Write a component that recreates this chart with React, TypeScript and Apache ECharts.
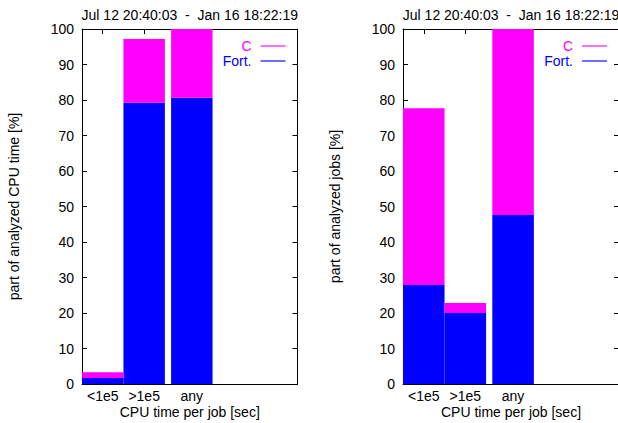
import React, { useEffect, useRef } from "react";
import * as echarts from "echarts";

const categories = ["<1e5", ">1e5", "any"];
const positions = [0.5, 1.5, 2.65];
const cpuFort = [1.7, 79.2, 80.6];
const cpuC = [1.6, 18.0, 19.4];
const jobsFort = [27.9, 20.0, 47.6];
const jobsC = [49.8, 2.8, 52.4];
const titleText = "Jul 12 20:40:03  -  Jan 16 18:22:19";
const yNames = ["part of analyzed CPU time [%]", "part of analyzed jobs [%]"];
const xName = "CPU time per job [sec]";
const seriesNames = ["C", "Fort."];

const FONT = "'Liberation Sans', Arial, Helvetica, sans-serif";
const FS = 14;
const MAGENTA = "#ff00ff";
const BLUE = "#0000ff";

const grids = [
  { left: 82, top: 29, width: 215.5, height: 355 },
  { left: 403, top: 29, width: 216, height: 355 },
];

export default function App() {
  const ref = useRef<HTMLDivElement>(null);
  useEffect(() => {
    if (!ref.current) return;
    const chart = echarts.init(ref.current, undefined, { renderer: "svg" });

    const renderItem = (color: string) => (params: any, api: any) => {
      const x = api.value(0);
      const lo = api.value(1);
      const hi = api.value(2);
      const p1 = api.coord([x - 0.5, hi]);
      const p2 = api.coord([x + 0.5, lo]);
      return {
        type: "rect",
        shape: { x: p1[0], y: p1[1], width: p2[0] - p1[0], height: p2[1] - p1[1] },
        style: { fill: color },
      };
    };

    const xAxes: any[] = [];
    const yAxes: any[] = [];
    const series: any[] = [];
    const graphic: any[] = [];
    const panels = [
      { fort: cpuFort, c: cpuC },
      { fort: jobsFort, c: jobsC },
    ];

    grids.forEach((g, i) => {
      const tickLine = { lineStyle: { color: "#000", width: 1 } };
      xAxes.push({
        type: "value",
        gridIndex: i,
        position: "bottom",
        min: 0,
        max: 5.2,
        splitLine: { show: false },
        axisLine: { show: true, onZero: false, ...tickLine },
        axisTick: { show: true, inside: true, length: 5, customValues: positions, ...tickLine },
        axisLabel: {
          customValues: positions,
          formatter: (v: number) => {
            const idx = positions.findIndex((p) => Math.abs(p - v) < 1e-6);
            return idx >= 0 ? categories[idx] : "";
          },
          color: "#000",
          fontFamily: FONT,
          fontSize: FS,
          lineHeight: 14,
          margin: 5,
        },
        name: xName,
        nameLocation: "middle",
        nameGap: 21,
        nameMoveOverlap: false,
        nameTextStyle: { color: "#000", fontFamily: FONT, fontSize: FS, lineHeight: 14 },
      });
      xAxes.push({
        type: "value",
        gridIndex: i,
        position: "top",
        min: 0,
        max: 5.2,
        splitLine: { show: false },
        axisLine: { show: true, onZero: false, ...tickLine },
        axisTick: { show: true, inside: true, length: 5, customValues: positions, ...tickLine },
        axisLabel: { show: false },
      });
      yAxes.push({
        type: "value",
        gridIndex: i,
        position: "left",
        min: 0,
        max: 100,
        interval: 10,
        splitLine: { show: false },
        axisLine: { show: true, onZero: false, ...tickLine },
        axisTick: { show: true, inside: true, length: 5, ...tickLine },
        axisLabel: { color: "#000", fontFamily: FONT, fontSize: FS, margin: 8 },
        name: yNames[i],
        nameLocation: "middle",
        nameGap: 61,
        nameMoveOverlap: false,
        nameTextStyle: { color: "#000", fontFamily: FONT, fontSize: FS },
      });
      yAxes.push({
        type: "value",
        gridIndex: i,
        position: "right",
        min: 0,
        max: 100,
        interval: 10,
        splitLine: { show: false },
        axisLine: { show: true, onZero: false, ...tickLine },
        axisTick: { show: true, inside: true, length: 5, ...tickLine },
        axisLabel: { show: false },
      });

      const p = panels[i];
      const fortData = positions.map((x, k) => [x, 0, p.fort[k]]);
      const cData = positions.map((x, k) => [x, p.fort[k], p.fort[k] + p.c[k]]);
      series.push({
        type: "custom",
        name: seriesNames[1],
        xAxisIndex: i * 2,
        yAxisIndex: i * 2,
        renderItem: renderItem(BLUE),
        encode: { x: 0, y: [1, 2] },
        data: fortData,
        z: 1,
      });
      series.push({
        type: "custom",
        name: seriesNames[0],
        xAxisIndex: i * 2,
        yAxisIndex: i * 2,
        renderItem: renderItem(MAGENTA),
        encode: { x: 0, y: [1, 2] },
        data: cData,
        z: 1,
      });

      const cx = g.left + g.width / 2;
      graphic.push({
        type: "text",
        x: cx,
        y: 15,
        style: {
          text: titleText,
          fill: "#000",
          font: `${FS}px ${FONT}`,
          textAlign: "center",
          textVerticalAlign: "middle",
        },
      });
      const lineEnd = g.left + g.width - 12;
      const lineStart = lineEnd - 25;
      const rows = [
        { name: seriesNames[0], color: MAGENTA, light: "#ff70ff", y: 46 },
        { name: seriesNames[1], color: BLUE, light: "#7070ff", y: 61 },
      ];
      rows.forEach((r) => {
        graphic.push({
          type: "text",
          x: lineStart - 9,
          y: r.y,
          style: {
            text: r.name,
            fill: r.color,
            font: `${FS}px ${FONT}`,
            textAlign: "right",
            textVerticalAlign: "middle",
          },
        });
        graphic.push({
          type: "line",
          shape: { x1: lineStart, y1: r.y, x2: lineEnd, y2: r.y },
          style: { stroke: r.light, lineWidth: 2 },
        });
      });
    });

    chart.setOption({
      animation: false,
      backgroundColor: "#fff",
      grid: grids.map((g) => ({ ...g, containLabel: false, outerBoundsMode: "none" })),
      xAxis: xAxes,
      yAxis: yAxes,
      series,
      graphic,
    });
    return () => chart.dispose();
  }, []);
  return (
    <div
      ref={ref}
      style={{ position: "absolute", left: 0, top: 0, width: 618, height: 423 }}
    />
  );
}
